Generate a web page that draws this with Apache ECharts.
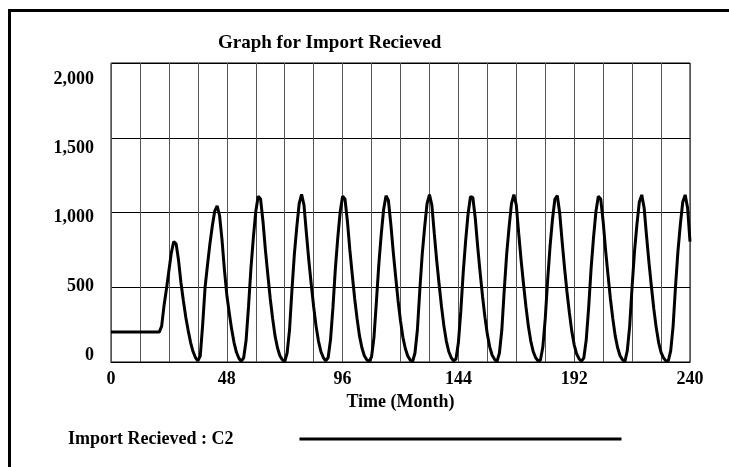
<!DOCTYPE html>
<html>
<head>
<meta charset="utf-8">
<title>Graph for Import Recieved</title>
<script src="https://cdn.jsdelivr.net/npm/echarts@6/dist/echarts.min.js"></script>
<style>
  html, body { margin: 0; padding: 0; background: #fff; }
  #chart { width: 729px; height: 467px; }
</style>
</head>
<body>
<div id="chart"></div>
<script>
// Simulation output: Import Recieved (run C2), one value per month, months 0..240
const seriesName = 'Import Recieved : C2';
const firstMonth = 0;
const importRecieved = [
  200, 200, 200, 200, 200, 200, 200, 200, 200, 200, 200, 200,      // 0-11
  200, 200, 200, 200, 200, 200, 200, 200, 200, 240, 380, 490,      // 12-23
  610, 730, 805, 790, 680, 530, 410, 300, 210, 130, 70, 30,        // 24-35
  8, 40, 250, 500, 650, 790, 910, 1010, 1045, 980, 820, 620,       // 36-47
  450, 330, 220, 130, 65, 25, 5, 28, 145, 370, 625, 830,           // 48-59
  1005, 1108, 1090, 940, 750, 585, 425, 290, 175, 95, 42, 16,      // 60-71
  3, 60, 214, 480, 720, 900, 1060, 1122, 1050, 860, 680, 520,      // 72-83
  370, 240, 140, 70, 30, 8, 28, 150, 365, 625, 830, 1005,          // 84-95
  1108, 1090, 940, 750, 585, 425, 290, 175, 95, 42, 16, 3,         // 96-107
  35, 165, 400, 650, 850, 1020, 1112, 1080, 920, 735, 570, 410,    // 108-119
  275, 165, 90, 40, 14, 3, 60, 214, 480, 720, 900, 1060,           // 120-131
  1120, 1050, 860, 680, 520, 370, 240, 140, 70, 30, 8, 20,         // 132-143
  130, 340, 600, 810, 990, 1105, 1100, 960, 770, 600, 440, 300,    // 144-155
  185, 100, 45, 18, 3, 60, 214, 480, 720, 900, 1060, 1120,         // 156-167
  1050, 860, 680, 520, 370, 240, 140, 70, 30, 8, 12, 100,          // 168-179
  290, 550, 775, 955, 1090, 1112, 995, 805, 630, 470, 330, 205,    // 180-191
  115, 55, 22, 5, 28, 150, 365, 625, 830, 1005, 1108, 1090,        // 192-203
  940, 750, 585, 425, 290, 175, 95, 42, 16, 3, 75, 240,            // 204-215
  505, 740, 920, 1070, 1118, 1030, 840, 665, 505, 355, 230, 130,   // 216-227
  65, 28, 7, 8, 75, 240, 505, 740, 920, 1070, 1118, 1030,          // 228-239
  805                                                              // 240
];

// Axis ranges and tick spacing
const timeRange = [0, 240];
const timeLabelStep = 48;
const timeGridStep = 12;
const valueRange = [0, 2000];
const valueStep = 500;

const chartTitle = 'Graph for Import Recieved';
const timeAxisName = 'Time (Month)';

const FONT = '"Liberation Serif", "Times New Roman", serif';

const points = importRecieved.map((v, i) => [firstMonth + i, v]);

const chart = echarts.init(document.getElementById('chart'), null, { renderer: 'canvas' });

chart.setOption({
  backgroundColor: '#fff',
  animation: false,
  title: {
    text: chartTitle,
    left: 218,
    top: 34,
    padding: 0,
    textStyle: { fontFamily: FONT, fontWeight: 'bold', fontSize: 19, color: '#000' }
  },
  graphic: [{
    type: 'rect',
    silent: true,
    shape: { x: 9.5, y: 10.5, width: 760, height: 500 },
    style: { fill: 'none', stroke: '#000', lineWidth: 3 }
  }],
  legend: {
    data: [seriesName],
    left: 63,
    top: 425,
    align: 'right',
    itemWidth: 322,
    itemHeight: 3,
    icon: 'rect',
    formatter: name => '{t|' + name + '}',
    textStyle: {
      fontFamily: FONT, fontWeight: 'bold', fontSize: 18, color: '#000',
      rich: { t: { fontFamily: FONT, fontWeight: 'bold', fontSize: 18, color: '#000', padding: [0, 61, 0, 0] } }
    }
  },
  grid: [
    { left: 111, top: 63, right: 39, bottom: 105, show: true, borderColor: '#000', borderWidth: 1, backgroundColor: '#fff' },
    { left: 111, top: 79, width: 579, height: 276, show: false }
  ],
  xAxis: [{
    type: 'value',
    gridIndex: 0,
    min: timeRange[0],
    max: timeRange[1],
    interval: timeLabelStep,
    name: timeAxisName,
    nameLocation: 'middle',
    nameGap: 25,
    nameTextStyle: { fontFamily: FONT, fontWeight: 'bold', fontSize: 18, color: '#000' },
    axisLine: { show: true, lineStyle: { color: '#000', width: 1 } },
    axisTick: { show: false },
    minorTick: { show: false, splitNumber: timeLabelStep / timeGridStep },
    minorSplitLine: { show: true, lineStyle: { color: '#555', width: 1 } },
    splitLine: { show: true, lineStyle: { color: '#555', width: 1 } },
    axisLabel: { margin: 8, fontFamily: FONT, fontWeight: 'bold', fontSize: 18, color: '#000' }
  }, {
    type: 'value',
    gridIndex: 1,
    min: timeRange[0],
    max: timeRange[1],
    show: false
  }],
  yAxis: [{
    type: 'value',
    gridIndex: 0,
    min: valueRange[0],
    max: valueRange[1],
    interval: valueStep,
    axisLine: { show: false },
    axisTick: { show: false },
    axisLabel: { show: false },
    splitLine: { show: true, lineStyle: { color: '#000', width: 1 } }
  }, {
    type: 'value',
    gridIndex: 1,
    min: valueRange[0],
    max: valueRange[1],
    interval: valueStep,
    axisLine: { show: false },
    axisTick: { show: false },
    splitLine: { show: false },
    axisLabel: {
      margin: 17,
      fontFamily: FONT, fontWeight: 'bold', fontSize: 18, color: '#000',
      formatter: v => v.toLocaleString('en-US')
    }
  }],
  series: [{
    name: seriesName,
    type: 'line',
    xAxisIndex: 0,
    yAxisIndex: 0,
    data: points,
    showSymbol: false,
    symbol: 'none',
    smooth: false,
    color: '#000',
    lineStyle: { color: '#000', width: 3 },
    emphasis: { disabled: true }
  }]
});
</script>
</body>
</html>
